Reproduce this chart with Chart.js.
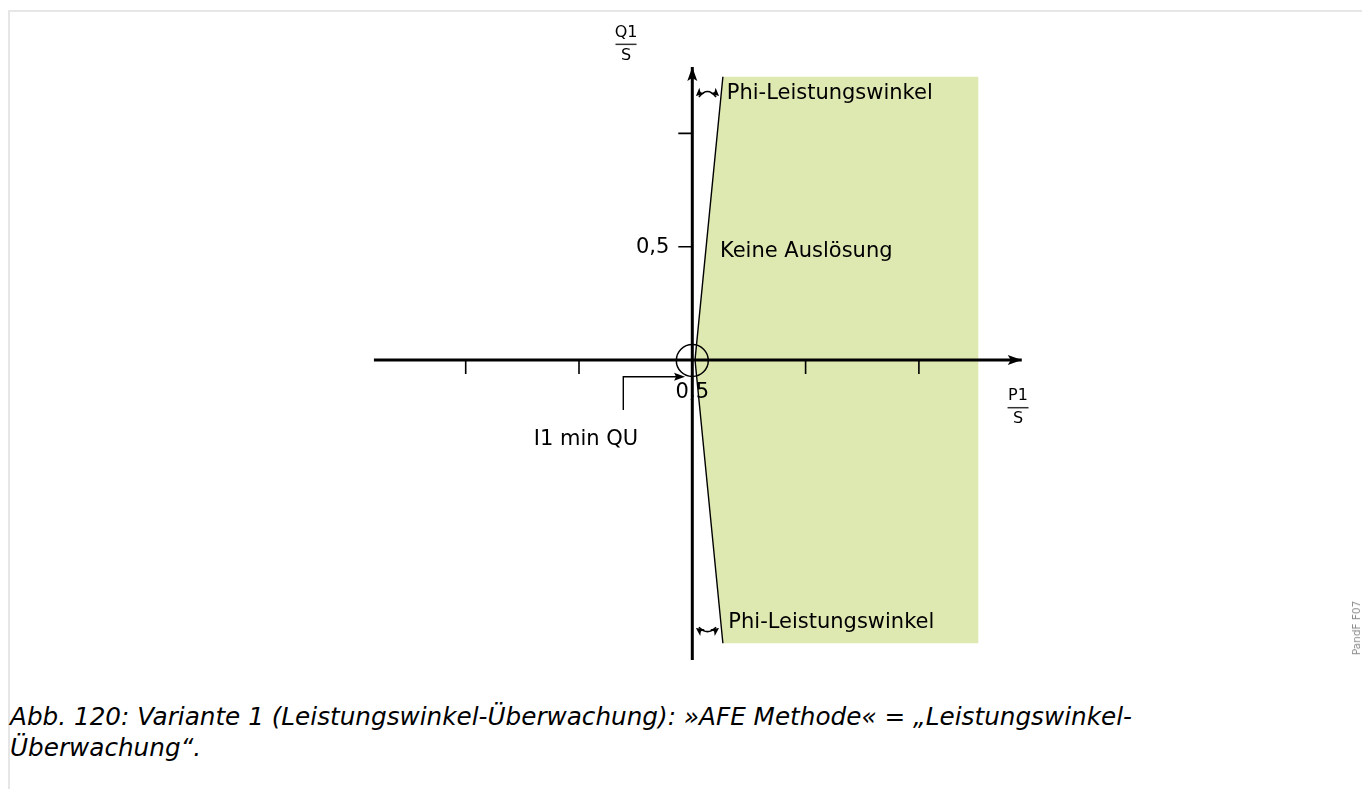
<!DOCTYPE html>
<html lang="de">
<head>
<meta charset="utf-8">
<title>Leistungswinkel-Überwachung</title>
<script src="https://cdn.jsdelivr.net/npm/chart.js@4.4.1/dist/chart.umd.min.js"></script>
<style>
  html, body { margin: 0; padding: 0; background: #fff; width: 1362px; height: 789px; overflow: hidden; }
  #frame { position: absolute; left: 8px; top: 10px; right: -4px; bottom: -4px; border-top: 2px solid #e6e6e6; border-left: 2px solid #e6e6e6; }
  #diagram { position: absolute; left: 0; top: 0; }
  #caption { position: absolute; left: 10px; top: 701px; font: italic 24.7px/31px 'DejaVu Sans', sans-serif; color: #000; white-space: nowrap; }
  #code { position: absolute; left: 1356px; top: 628px; transform: translate(-50%, -50%) rotate(-90deg); font: 10.5px 'DejaVu Sans', sans-serif; color: #8c8c8c; white-space: nowrap; }
</style>
</head>
<body>
<div id="frame"></div>
<canvas id="diagram" width="1362" height="700"></canvas>
<div id="caption">Abb. 120: Variante 1 (Leistungswinkel-Überwachung): »AFE Methode« = „Leistungswinkel-<br>Überwachung“.</div>
<div id="code">PandF F07</div>
<script>
// Achsen (Einheit P1/S bzw. Q1/S)
const xTicks = [-1.0, -0.5, 0.5, 1.0];
const yTicks = [0.5, 1.0];
const yTickLabels = ['0,5', ''];
const xAxisRange = [-1.405, 1.454];
const yAxisRange = [-1.324, 1.293];

// grüner Bereich "Keine Auslösung" und Phi-Grenzlinie
const zoneX = [0.012, 0.135, 1.262, 1.262, 0.135, 0.012];
const zoneY = [0, 1.25, 1.25, -1.25, -1.25, 0];
const limitX = [0.135, 0.012, 0.135];
const limitY = [1.25, 0, -1.25];

// Beschriftungen im Diagramm (Datenkoordinaten, Grundlinie)
const labelTexts = ['Phi-Leistungswinkel', 'Keine Auslösung', 'Phi-Leistungswinkel', 'I1 min QU', '0,5'];
const labelX = [0.152, 0.122, 0.159, -0.469, 0];
const labelY = [1.154, 0.4545, -1.184, -0.373, -0.168];
const labelAlign = ['left', 'left', 'left', 'center', 'center'];

// Winkelpfeile und Hinweislinie I1 min QU
const arcY = [1.165, -1.183];
const arcX = [0.016, 0.118];
const leaderX = [-0.3045, -0.3045, -0.032];
const leaderY = [-0.2207, -0.0737, -0.0737];

const toPoints = (xs, ys) => xs.map((x, i) => ({ x: x, y: ys[i] }));

const FONT = '"DejaVu Sans", sans-serif';

function arrowHead(ctx, x, y, angle, len, half, notch) {
    ctx.save();
    ctx.translate(x, y);
    ctx.rotate(angle);
    ctx.beginPath();
    ctx.moveTo(0, 0);
    ctx.lineTo(-len, -half);
    ctx.lineTo(-len + notch, 0);
    ctx.lineTo(-len, half);
    ctx.closePath();
    ctx.fill();
    ctx.restore();
}

function fraction(ctx, cx, yLine, top, bottom) {
    ctx.font = '16px ' + FONT;
    ctx.textAlign = 'center';
    ctx.textBaseline = 'alphabetic';
    ctx.fillText(top, cx, yLine - 7.5);
    ctx.fillText(bottom, cx, yLine + 15.5);
    ctx.strokeStyle = '#333';
    ctx.lineWidth = 1.5;
    ctx.beginPath();
    ctx.moveTo(cx - 10.5, yLine);
    ctx.lineTo(cx + 10.5, yLine);
    ctx.stroke();
    ctx.strokeStyle = '#000';
}

const diagramPlugin = {
    id: 'diagramPlugin',
    afterDatasetsDraw(chart) {
        const ctx = chart.ctx;
        const px = v => chart.scales.x.getPixelForValue(v);
        const py = v => chart.scales.y.getPixelForValue(v);
        const x0 = px(0), y0 = py(0);

        ctx.save();
        ctx.strokeStyle = '#000';
        ctx.fillStyle = '#000';

        // Teilstriche
        ctx.lineWidth = 1.6;
        ctx.beginPath();
        xTicks.forEach(v => { ctx.moveTo(px(v), y0); ctx.lineTo(px(v), y0 + 14); });
        yTicks.forEach(v => { ctx.moveTo(x0 - 14, py(v)); ctx.lineTo(x0, py(v)); });
        ctx.stroke();

        // Pfeilspitzen der Achsen
        arrowHead(ctx, px(xAxisRange[1]), y0, 0, 14, 5, 3);
        arrowHead(ctx, x0, py(yAxisRange[1]), -Math.PI / 2, 14, 5, 3);

        // Kreis um den Ursprung
        ctx.lineWidth = 1.5;
        ctx.beginPath();
        ctx.arc(x0, y0 + 0.5, 16, 0, Math.PI * 2);
        ctx.stroke();

        // Winkelpfeile
        arcY.forEach((ay, i) => {
            const yEnd = py(ay);
            const bend = i === 0 ? -10 : 8;
            const xl = px(arcX[0]), xr = px(arcX[1]);
            const cx = (xl + xr) / 2, cy = yEnd + bend;
            ctx.lineWidth = 1.6;
            ctx.beginPath();
            ctx.moveTo(xl + 3, yEnd - bend * 0.1);
            ctx.quadraticCurveTo(cx, cy, xr - 3, yEnd - bend * 0.1);
            ctx.stroke();
            arrowHead(ctx, xl, yEnd, Math.atan2(yEnd - cy, xl - cx), 8, 4, 2);
            arrowHead(ctx, xr, yEnd, Math.atan2(yEnd - cy, xr - cx), 8, 4, 2);
        });

        // Hinweislinie I1 min QU
        ctx.lineWidth = 1.4;
        ctx.beginPath();
        ctx.moveTo(px(leaderX[0]), py(leaderY[0]));
        ctx.lineTo(px(leaderX[1]), py(leaderY[1]));
        ctx.lineTo(px(leaderX[2]) - 8, py(leaderY[2]));
        ctx.stroke();
        arrowHead(ctx, px(leaderX[2]), py(leaderY[2]), 0, 11, 4, 2);

        // Texte
        ctx.font = '21px ' + FONT;
        ctx.textBaseline = 'alphabetic';
        labelTexts.forEach((t, i) => {
            ctx.textAlign = labelAlign[i];
            ctx.fillText(t, px(labelX[i]), py(labelY[i]));
        });
        ctx.textAlign = 'right';
        yTicks.forEach((v, i) => {
            if (yTickLabels[i]) ctx.fillText(yTickLabels[i], x0 - 23, py(v) + 6.5);
        });

        // Achsenbezeichnungen als Bruch
        fraction(ctx, px(-0.2925), py(1.393), 'Q1', 'S');
        fraction(ctx, px(1.4375), py(-0.2105), 'P1', 'S');

        ctx.restore();
    }
};

const canvas = document.getElementById('diagram');
const ctx = canvas.getContext('2d');

new Chart(ctx, {
    type: 'scatter',
    data: {
        datasets: [
            {
                label: 'P1/S',
                data: toPoints(xAxisRange, [0, 0]),
                showLine: true,
                borderColor: '#000',
                borderWidth: 3,
                pointRadius: 0,
                fill: false
            },
            {
                label: 'Q1/S',
                data: toPoints([0, 0], yAxisRange),
                showLine: true,
                borderColor: '#000',
                borderWidth: 3,
                pointRadius: 0,
                fill: false
            },
            {
                label: 'Phi-Grenze',
                data: toPoints(limitX, limitY),
                showLine: true,
                borderColor: '#000',
                borderWidth: 1.4,
                pointRadius: 0,
                fill: false
            },
            {
                label: 'Keine Auslösung',
                data: toPoints(zoneX, zoneY),
                showLine: true,
                borderWidth: 0,
                borderColor: 'rgba(0,0,0,0)',
                backgroundColor: 'rgb(222, 232, 177)',
                pointRadius: 0,
                fill: 'shape'
            }
        ]
    },
    options: {
        responsive: false,
        animation: false,
        devicePixelRatio: 1,
        layout: { padding: 0 },
        plugins: {
            legend: { display: false },
            tooltip: { enabled: false }
        },
        scales: {
            x: { type: 'linear', display: false, min: -692.3 / 226.6, max: 669.7 / 226.6 },
            y: { type: 'linear', display: false, min: -340 / 226.6, max: 360 / 226.6 }
        }
    },
    plugins: [diagramPlugin]
});
</script>
</body>
</html>
